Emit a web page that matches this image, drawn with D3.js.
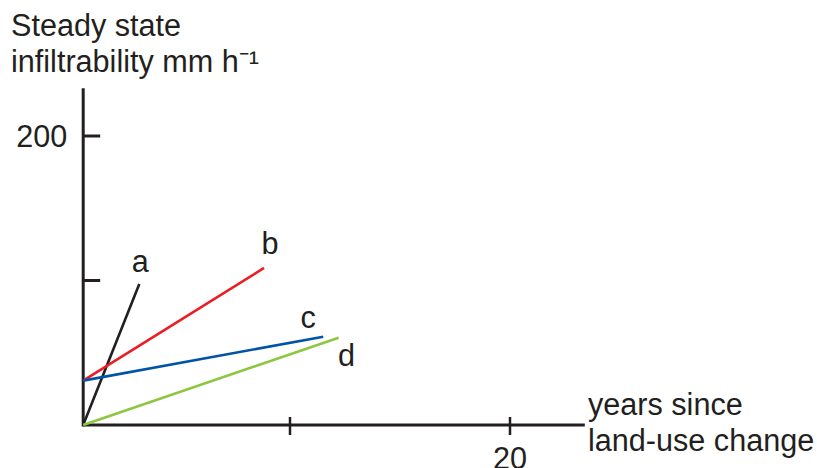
<!DOCTYPE html>
<html>
<head>
<meta charset="utf-8">
<script src="https://cdn.jsdelivr.net/npm/d3@7/dist/d3.min.js"></script>
<style>
  html, body { margin: 0; padding: 0; background: #fff; }
  svg { display: block; font-family: "Liberation Sans", Arial, sans-serif; }
</style>
</head>
<body>
<svg id="chart" width="817" height="468"></svg>
<script>
// ---- data ----
const seriesNames = ["a", "b", "c", "d"];
const seriesColors = ["#231f20", "#ed1c24", "#0054a6", "#8dc63f"];
// [years since land-use change, steady state infiltrability mm/h]
const seriesA = [[0.6, 0], [3.15, 97.6]];
const seriesB = [[0.6, 30.7], [8.82, 108.7]];
const seriesC = [[0.6, 30.7], [11.51, 61.1]];
const seriesD = [[0.6, 0], [12.21, 60.4]];
const xTicks = [10, 20];
const xTickLabels = ["", "20"];
const yTicks = [100, 200];
const yTickLabels = ["", "200"];
const xDomain = [0.6, 23.4];
const yDomain = [0, 233];
const yTitle = ["Steady state", "infiltrability mm h\u207B\u00B9"];
const xTitle = ["years since", "land-use change"];

// ---- scales ----
const x = d3.scaleLinear().domain([10, 20]).range([290, 510]);
const y = d3.scaleLinear().domain([0, 200]).range([425, 136]);
const ink = "#231f20";
const fs = 30.6;
const svg = d3.select("#chart");

const x0 = x(xDomain[0]), y0 = y(yDomain[0]);

// axes lines
svg.append("line").attr("x1", x0).attr("x2", x(xDomain[1]))
  .attr("y1", y0).attr("y2", y0).attr("stroke", ink).attr("stroke-width", 3);
svg.append("line").attr("x1", x0).attr("x2", x0)
  .attr("y1", y0 + 1.5).attr("y2", y(yDomain[1])).attr("stroke", ink).attr("stroke-width", 3);

// x ticks (crossing)
xTicks.forEach((t, i) => {
  svg.append("line").attr("x1", x(t)).attr("x2", x(t))
    .attr("y1", y0 - 8).attr("y2", y0 + 10).attr("stroke", ink).attr("stroke-width", 2.5);
  if (xTickLabels[i]) {
    svg.append("text").attr("x", x(t)).attr("y", y0 + 44)
      .attr("text-anchor", "middle").attr("font-size", fs).attr("fill", ink)
      .text(xTickLabels[i]);
  }
});
// y ticks (inward)
yTicks.forEach((t, i) => {
  svg.append("line").attr("x1", x0).attr("x2", x0 + 17)
    .attr("y1", y(t)).attr("y2", y(t)).attr("stroke", ink).attr("stroke-width", 3);
  if (yTickLabels[i]) {
    svg.append("text").attr("x", x0 - 16).attr("y", y(t) + 10.5)
      .attr("text-anchor", "end").attr("font-size", fs).attr("fill", ink)
      .text(yTickLabels[i]);
  }
});

// series lines
const series = [seriesA, seriesB, seriesC, seriesD];
const line = d3.line().x(d => x(d[0])).y(d => y(d[1]));
series.forEach((s, i) => {
  svg.append("path").attr("d", line(s)).attr("fill", "none")
    .attr("stroke", seriesColors[i]).attr("stroke-width", 2.6);
});

// series labels (placed relative to line end)
const labelOffsets = [[1, -12], [6, -14], [-15, -9], [8, 28]];
series.forEach((s, i) => {
  const end = s[s.length - 1];
  svg.append("text")
    .attr("x", x(end[0]) + labelOffsets[i][0])
    .attr("y", y(end[1]) + labelOffsets[i][1])
    .attr("text-anchor", "middle").attr("font-size", fs).attr("fill", ink)
    .text(seriesNames[i]);
});

// titles
yTitle.forEach((t, i) => {
  svg.append("text").attr("x", 11).attr("y", 36 + i * 36)
    .attr("font-size", fs).attr("fill", ink).text(t);
});
xTitle.forEach((t, i) => {
  svg.append("text").attr("x", 588).attr("y", 415 + i * 36)
    .attr("font-size", fs).attr("fill", ink).text(t);
});
</script>
</body>
</html>
